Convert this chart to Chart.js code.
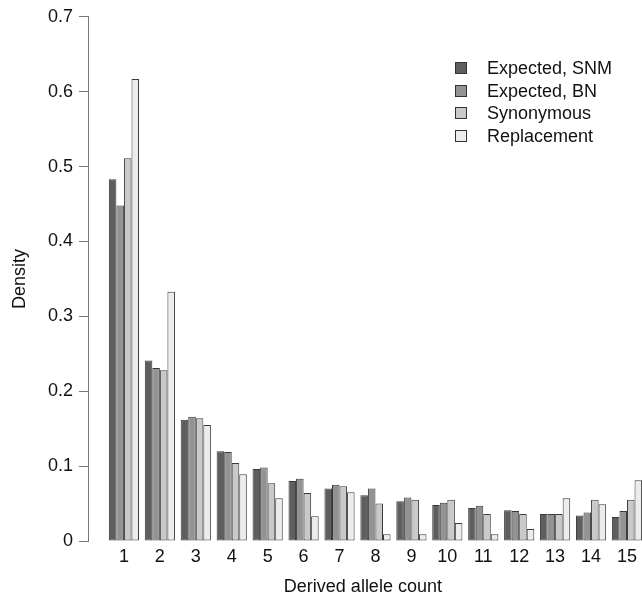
<!DOCTYPE html>
<html>
<head>
<meta charset="utf-8">
<script src="https://cdn.jsdelivr.net/npm/chart.js@4.4.0/dist/chart.umd.min.js"></script>
<style>
  html, body { margin: 0; padding: 0; background: #fff; overflow: hidden; }
  #wrap { width: 642px; height: 596px; position: relative; }
</style>
</head>
<body>
<div id="wrap"><canvas id="chart"></canvas></div>
<script>
// derived allele counts (x categories)
const counts = [1, 2, 3, 4, 5, 6, 7, 8, 9, 10, 11, 12, 13, 14, 15];
const seriesNames = ["Expected, SNM", "Expected, BN", "Synonymous", "Replacement"];
const expectedSNM = [0.483, 0.241, 0.162, 0.120, 0.096, 0.080, 0.070, 0.061, 0.053, 0.048, 0.044, 0.041, 0.036, 0.034, 0.032];
const expectedBN  = [0.448, 0.231, 0.166, 0.119, 0.098, 0.083, 0.075, 0.070, 0.058, 0.051, 0.047, 0.040, 0.036, 0.038, 0.040];
const synonymous  = [0.511, 0.228, 0.164, 0.104, 0.077, 0.064, 0.073, 0.050, 0.055, 0.055, 0.036, 0.036, 0.036, 0.055, 0.055];
const replacement = [0.617, 0.333, 0.155, 0.089, 0.057, 0.033, 0.065, 0.009, 0.009, 0.024, 0.009, 0.016, 0.057, 0.049, 0.081];
const yTicks = [0, 0.1, 0.2, 0.3, 0.4, 0.5, 0.6, 0.7];

const fills = ["#5e5e5e", "#939393", "#c9c9c9", "#ececec"];
const FONT = "'Liberation Sans', Arial, sans-serif";

// R-style legend in the top right
const boxLegend = {
  id: "boxLegend",
  afterDraw(chart) {
    const ctx = chart.ctx;
    const x0 = 455, y0 = 68, pitch = 22.7, box = 12;
    ctx.save();
    ctx.font = "18px " + FONT;
    ctx.textBaseline = "middle";
    chart.data.datasets.forEach((ds, i) => {
      const y = Math.round(y0 + i * pitch);
      ctx.fillStyle = ds.backgroundColor;
      ctx.fillRect(x0, y - box / 2, box, box);
      ctx.strokeStyle = "#333";
      ctx.lineWidth = 1;
      ctx.strokeRect(x0 + 0.5, y - box / 2 + 0.5, box - 1, box - 1);
      ctx.fillStyle = "#111";
      ctx.fillText(ds.label, x0 + 32, y + 1);
    });
    ctx.restore();
  }
};

const seriesData = [expectedSNM, expectedBN, synonymous, replacement];

new Chart(document.getElementById("chart"), {
  type: "bar",
  data: {
    labels: counts,
    datasets: seriesData.map((d, i) => ({
      label: seriesNames[i],
      data: d,
      backgroundColor: fills[i],
      borderColor: "#3a3a3a",
      borderWidth: 1,
      borderSkipped: false,
      categoryPercentage: 0.84,
      barPercentage: 1.0,
      clip: false
    }))
  },
  options: {
    responsive: true,
    maintainAspectRatio: false,
    animation: false,
    layout: { padding: { top: 15, right: 0, left: 0, bottom: 0 } },
    plugins: { legend: { display: false }, tooltip: { enabled: false } },
    scales: {
      x: {
        type: "linear",
        offset: false,
        min: 0,
        max: 15.3,
        grid: { display: false, drawTicks: false, offset: false },
        border: { display: false },
        afterBuildTicks: s => { s.ticks = counts.map(v => ({ value: v })); },
        afterFit: s => { s.height = 55; },
        ticks: {
          color: "#111",
          font: { family: FONT, size: 18 },
          padding: 5,
          maxRotation: 0,
          autoSkip: false,
          callback: v => String(v)
        },
        title: {
          display: true,
          text: "Derived allele count",
          color: "#111",
          font: { family: FONT, size: 18, lineHeight: 1.0 },
          padding: { top: 0, bottom: 0 }
        }
      },
      y: {
        min: 0,
        max: 0.7,
        grid: { drawOnChartArea: false, color: "#777", tickLength: 9, tickWidth: 1 },
        border: { display: true, color: "#777", width: 1 },
        afterBuildTicks: s => { s.ticks = yTicks.map(v => ({ value: v })); },
        afterFit: s => { s.width = 88; },
        ticks: {
          color: "#111",
          font: { family: FONT, size: 18 },
          padding: 6,
          callback: v => String(v)
        },
        title: {
          display: true,
          text: "Density",
          color: "#111",
          font: { family: FONT, size: 18 },
          padding: { top: 9, bottom: 0 }
        }
      }
    }
  },
  plugins: [boxLegend]
});
</script>
</body>
</html>
